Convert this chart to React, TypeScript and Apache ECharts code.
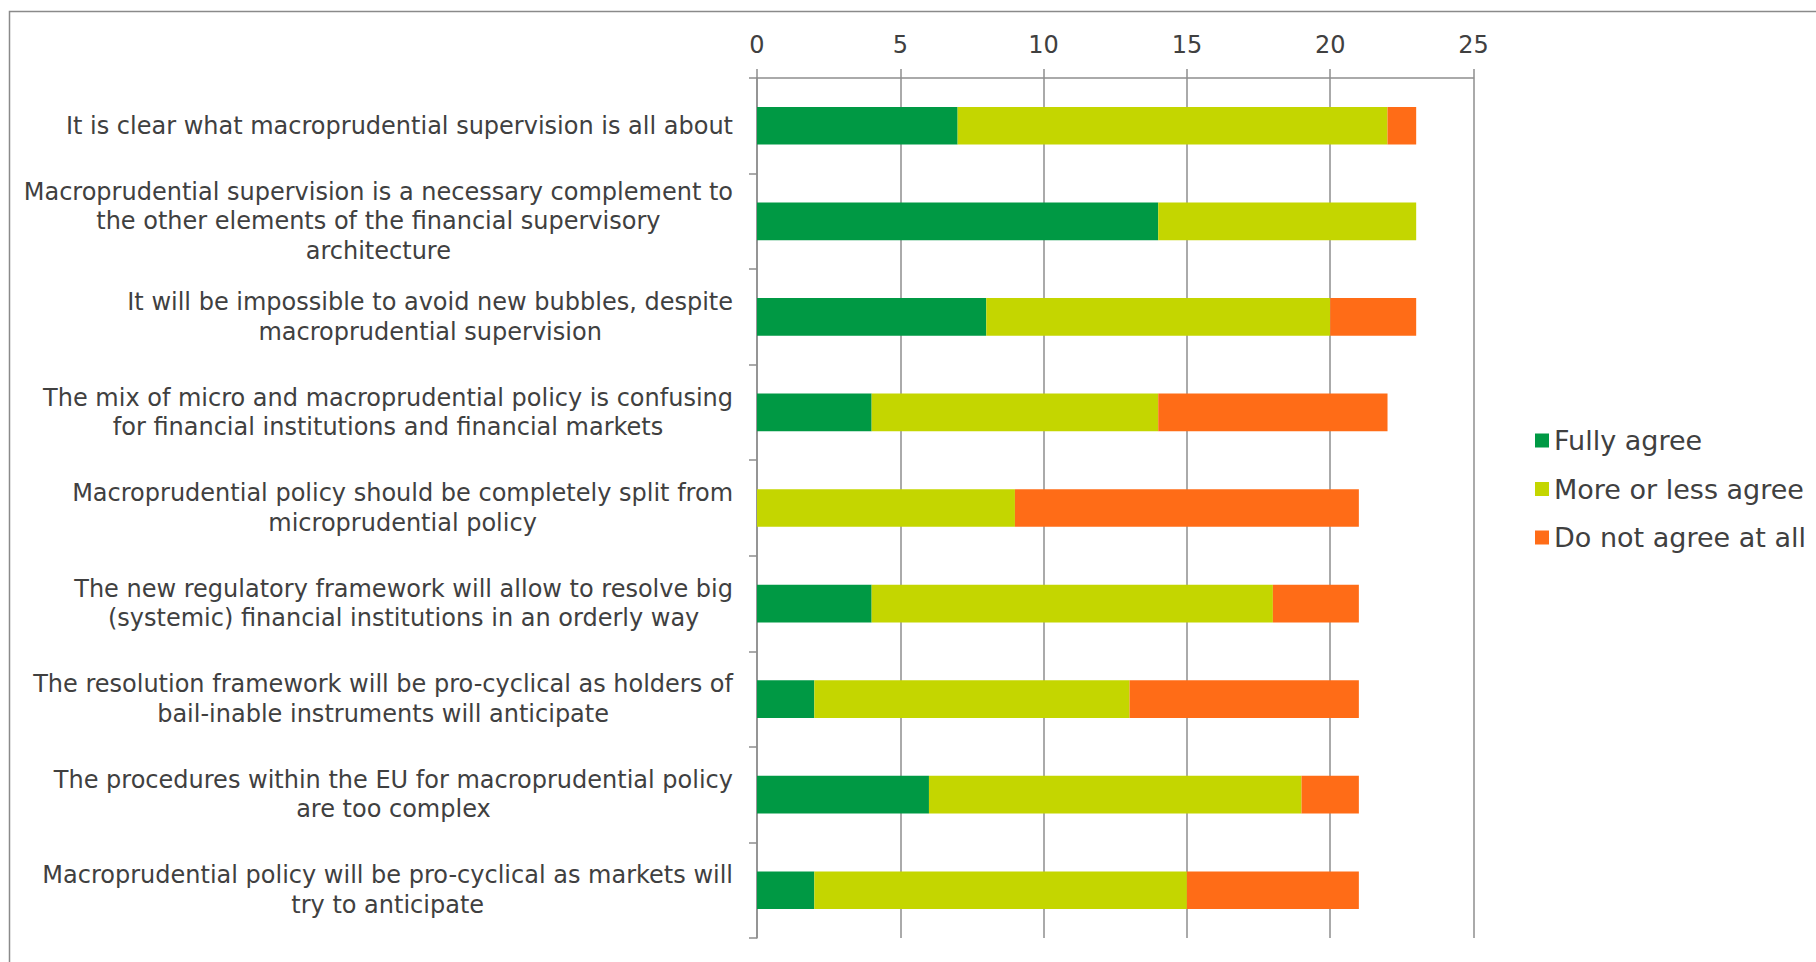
import React, { useEffect, useRef } from "react";
import * as echarts from "echarts";

const categories: string[] = [
  "It is clear what macroprudential supervision is all about",
  "Macroprudential supervision is a necessary complement to\nthe other elements of the financial supervisory\narchitecture",
  "It will be impossible to avoid new bubbles, despite\nmacroprudential supervision",
  "The mix of micro and macroprudential policy is confusing\nfor financial institutions and financial markets",
  "Macroprudential policy should be completely split from\nmicroprudential policy",
  "The new regulatory framework will allow to resolve big\n(systemic) financial institutions in an orderly way",
  "The resolution framework will be pro-cyclical as holders of\nbail-inable instruments will anticipate",
  "The procedures within the EU for macroprudential policy\nare too complex",
  "Macroprudential policy will be pro-cyclical as markets will\ntry to anticipate",
];

const fullyAgree: number[] = [7, 14, 8, 4, 0, 4, 2, 6, 2];
const moreOrLessAgree: number[] = [15, 9, 12, 10, 9, 14, 11, 13, 13];
const doNotAgree: number[] = [1, 0, 3, 8, 12, 3, 8, 2, 6];

const seriesNames: string[] = ["Fully agree", "More or less agree", "Do not agree at all"];
const seriesColors: string[] = ["#009944", "#C4D600", "#FF6C17"];

const TEXT = "#404040";
const GRID = "#8E8E8E";
const FONT = "DejaVu Sans";

export default function App() {
  const ref = useRef<HTMLDivElement>(null);

  useEffect(() => {
    if (!ref.current) return;
    const chart = echarts.init(ref.current, undefined, { renderer: "svg" });
    const values = [fullyAgree, moreOrLessAgree, doNotAgree];
    chart.setOption({
      animation: false,
      backgroundColor: "#ffffff",
      textStyle: { fontFamily: FONT },
      graphic: [
        {
          type: "rect",
          shape: { x: 9.5, y: 11.5, width: 1900, height: 1000 },
          style: { fill: "none", stroke: "#8A8A8A", lineWidth: 1.5 },
          silent: true,
        },
      ],
      legend: {
        orient: "vertical",
        left: 1530,
        top: 422,
        itemWidth: 14,
        itemHeight: 14,
        itemGap: 21.5,
        icon: "rect",
        data: seriesNames,
        textStyle: { fontFamily: FONT, fontSize: 27, color: TEXT },
      },
      grid: { left: 757, right: 342.5, top: 78, bottom: 24, containLabel: false },
      xAxis: {
        type: "value",
        position: "top",
        min: 0,
        max: 25,
        interval: 5,
        axisLine: { show: true, lineStyle: { color: GRID, width: 1.5 } },
        axisTick: { show: true, length: 9, lineStyle: { color: GRID, width: 1.5 } },
        splitLine: { show: true, lineStyle: { color: GRID, width: 1.5 } },
        axisLabel: { margin: 21, fontFamily: FONT, fontSize: 24, color: TEXT },
      },
      yAxis: {
        type: "category",
        inverse: true,
        data: categories,
        axisLine: { show: true, lineStyle: { color: GRID, width: 1.5 } },
        axisTick: { show: true, length: 8, lineStyle: { color: GRID, width: 1.5 } },
        axisLabel: {
          margin: 24,
          align: "right",
          formatter: (v: string) =>
            v
              .split("\n")
              .map((l) => "{c|" + l + "}")
              .join("\n"),
          rich: {
            c: {
              align: "center",
              fontFamily: FONT,
              fontSize: 24,
              lineHeight: 29.5,
              color: TEXT,
            },
          },
        },
      },
      series: seriesNames.map((name, i) => ({
        name,
        type: "bar",
        stack: "total",
        barWidth: "39.4%",
        data: values[i],
        itemStyle: { color: seriesColors[i] },
      })),
    });
    return () => chart.dispose();
  }, []);

  return (
    <div
      ref={ref}
      style={{ position: "absolute", left: 0, top: 0, width: 1816, height: 962 }}
    />
  );
}
